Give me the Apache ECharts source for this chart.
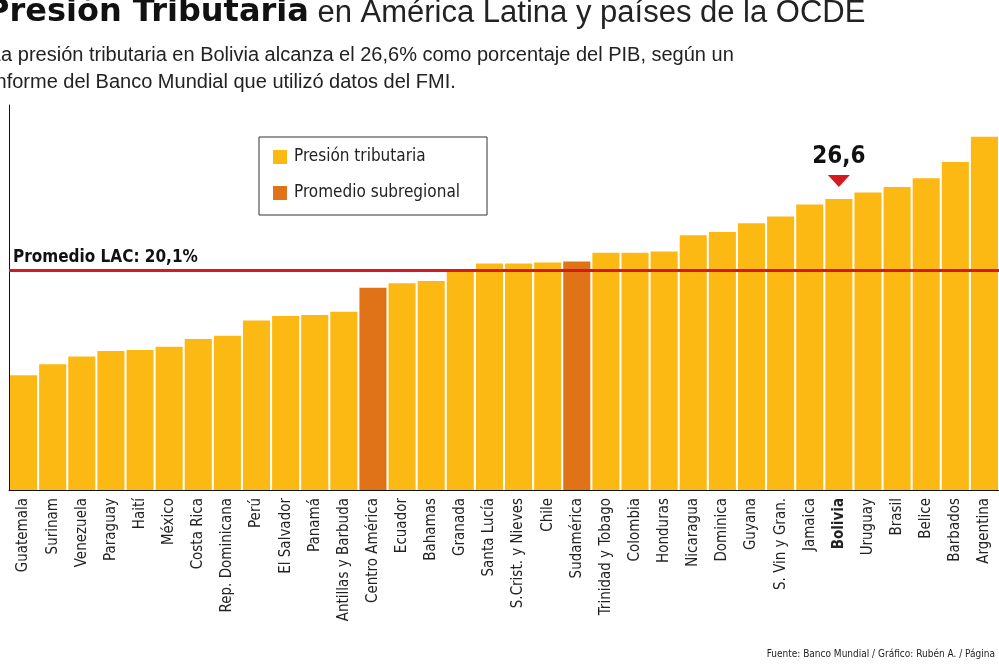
<!DOCTYPE html>
<html><head><meta charset="utf-8">
<script src="https://cdn.jsdelivr.net/npm/echarts@6/dist/echarts.min.js"></script>
<style>html,body{margin:0;padding:0;background:#fff}#c{width:999px;height:665px}</style>
</head><body><div id="c"></div>
<script>
const categories=["Guatemala","Surinam","Venezuela","Paraguay","Haití","México","Costa Rica","Rep. Dominicana","Perú","El Salvador","Panamá","Antillas y Barbuda","Centro América","Ecuador","Bahamas","Granada","Santa Lucía","S.Crist. y Nieves","Chile","Sudamérica","Trinidad y Tobago","Colombia","Honduras","Nicaragua","Dominica","Guyana","S. Vin y Gran.","Jamaica","Bolivia","Uruguay","Brasil","Belice","Barbados","Argentina"];
const values=[10.5,11.5,12.2,12.7,12.8,13.1,13.8,14.1,15.5,15.9,16.0,16.3,18.5,18.9,19.1,20.1,20.7,20.7,20.8,20.9,21.7,21.7,21.8,23.3,23.6,24.4,25.0,26.1,26.6,27.2,27.7,28.5,30.0,32.3];
const subregional=["Centro América","Sudamérica"];
const lacAverage=20.1;
const COND='DejaVu Sans Condensed, Roboto, sans-serif';
const chart=echarts.init(document.getElementById('c'));
chart.setOption({
 animation:false,
 grid:{left:9,right:0,top:105,bottom:175},
 graphic:[
  {type:'text',left:-14,top:-3,style:{text:'{b|Presión Tributaria} en América Latina y países de la OCDE',rich:{b:{fontWeight:'bold',fontSize:32,fill:'#111',fontFamily:'DejaVu Sans'}},fontSize:31,fill:'#222',fontFamily:'Liberation Sans'}},
  {type:'text',left:-10,top:42,style:{text:'La presión tributaria en Bolivia alcanza el 26,6% como porcentaje del PIB, según un\nInforme del Banco Mundial que utilizó datos del FMI.',fontSize:20,lineHeight:27,fill:'#222',fontFamily:'Liberation Sans'}},
  {type:'rect',shape:{x:259,y:137,width:228,height:78},style:{fill:'#fff',stroke:'#333',lineWidth:1}},
  {type:'rect',shape:{x:273,y:150,width:14,height:14},style:{fill:'#FDB913'}},
  {type:'rect',shape:{x:273,y:186,width:14,height:14},style:{fill:'#E07318'}},
  {type:'text',x:294,y:148,style:{text:'Presión tributaria',fontSize:17,fill:'#222',fontFamily:COND}},
  {type:'text',x:294,y:184,style:{text:'Promedio subregional',fontSize:17,fill:'#222',fontFamily:COND}},
  {type:'text',right:4,bottom:6,style:{text:'Fuente: Banco Mundial / Gráfico: Rubén A. / Página',fontSize:10,fill:'#222',fontFamily:COND}}
 ],
 xAxis:{type:'category',data:categories,axisTick:{show:false},axisLine:{lineStyle:{color:'#111'}},
  axisLabel:{rotate:90,interval:0,fontSize:15,color:'#222',fontFamily:COND,
   formatter:v=>v==='Bolivia'?'{b|'+v+'}':v,rich:{b:{fontWeight:'bold',fontSize:15,fontFamily:COND}}}},
 yAxis:{type:'value',min:0,max:35.2,axisLabel:{show:false},splitLine:{show:false},axisLine:{show:true,lineStyle:{color:'#111'}}},
 series:[{type:'bar',barCategoryGap:'7%',
  data:values.map((v,i)=>({value:v,itemStyle:{color:subregional.includes(categories[i])?'#E07318':'#FDB913'}})),
  markLine:{silent:true,symbol:'none',data:[{yAxis:lacAverage}],lineStyle:{color:'#D7191F',width:3,type:'solid'},
   label:{position:'insideStartTop',formatter:'Promedio LAC: 20,1%',fontSize:17,fontWeight:'bold',color:'#111',fontFamily:COND,distance:[4,4]}},
  markPoint:{data:[{coord:['Bolivia',26.6],symbol:'triangle',symbolRotate:180,symbolSize:[22,12],symbolOffset:[0,-18],itemStyle:{color:'#D7191F'},
   label:{show:true,position:'top',distance:6,formatter:'26,6',fontSize:24,fontWeight:'bold',color:'#111',fontFamily:COND}}]}
 }]
});
</script></body></html>
